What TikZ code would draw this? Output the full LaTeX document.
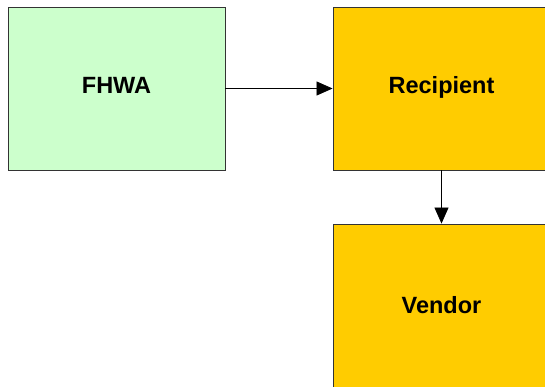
\documentclass[tikz,border=0pt]{standalone}
\usepackage{fontspec}
\setmainfont{Liberation Sans}
\usetikzlibrary{arrows.meta}
\definecolor{boxgreen}{HTML}{CCFFCC}
\definecolor{boxyellow}{HTML}{FFCC00}
\definecolor{edgegray}{HTML}{333333}
\begin{document}
\begin{tikzpicture}[x=1pt,y=-1pt,
  box/.style={draw=edgegray,line width=0.9pt,minimum width=217pt,minimum height=163pt,inner sep=0pt,text height=9pt,text depth=0pt,font=\fontsize{23.5}{28}\selectfont\bfseries},
  conn/.style={line width=0.8pt,-{Triangle[length=16pt,width=14pt]}}]
\useasboundingbox (0,0) rectangle (545,386);
\clip (0,0) rectangle (545,386);
\node[box,fill=boxgreen] (fhwa) at (116.5,88.5) {FHWA};
\node[box,fill=boxyellow] (rec) at (441.5,88.5) {Recipient};
\node[box,fill=boxyellow,minimum height=169pt] (ven) at (441.5,308.5) {Vendor};
\draw[conn] (fhwa.east) -- (rec.west);
\draw[conn] (rec.south) -- (ven.north);
\end{tikzpicture}
\end{document}
